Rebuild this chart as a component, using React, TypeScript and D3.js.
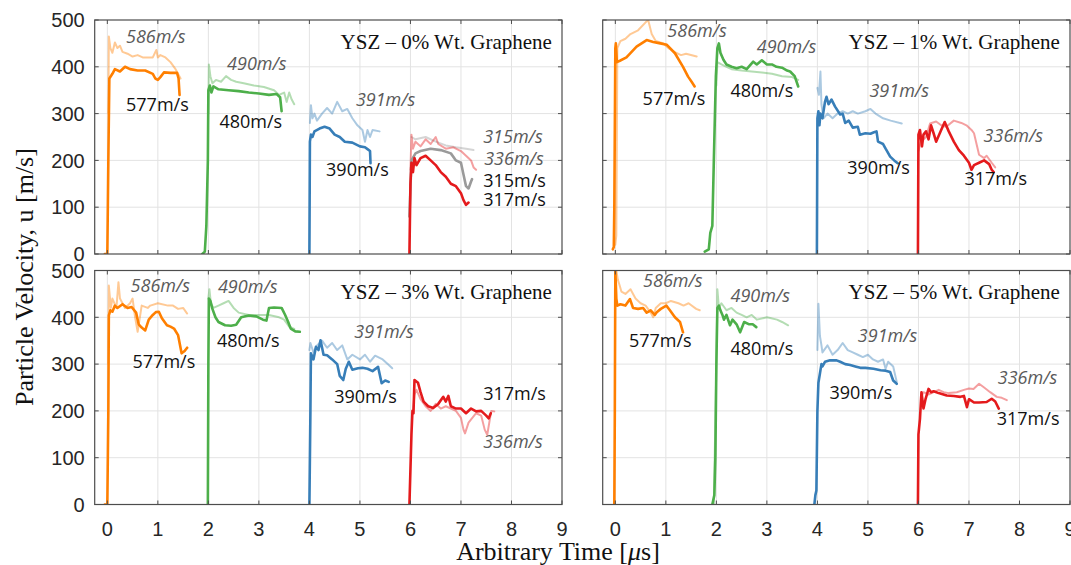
import React from "react";
import * as d3 from "d3";

type Pt = [number, number];

// ---------- axes ----------
const xTicks = [0, 1, 2, 3, 4, 5, 6, 7, 8, 9];
const yTicks = [0, 100, 200, 300, 400, 500];
const xDomain: [number, number] = [-0.25, 9];
const yDomain: [number, number] = [0, 500];
const xAxisLabel = "Arbitrary Time [";
const yAxisLabel = "Particle Velocity, u [m/s]";
const panelTitles = [
  "YSZ – 0% Wt. Graphene",
  "YSZ – 1% Wt. Graphene",
  "YSZ – 3% Wt. Graphene",
  "YSZ – 5% Wt. Graphene",
];

// ---------- colours ----------
const cOrange = "#FF7F00";
const cGreen = "#4DAF4A";
const cBlue = "#377EB8";
const cRed = "#E41A1C";
const cGray = "#9a9a9a";

// ---------- Panel 0% ----------
const p0OrangeA: Pt[] = [[0.02,300],[0.03,465],[0.06,440],[0.1,430],[0.15,452],[0.2,440],[0.25,445],[0.3,432],[0.4,428],[0.5,422],[0.6,425],[0.7,420],[0.8,420],[0.9,420],[0.97,436],[1.0,420],[1.05,425],[1.15,420],[1.25,410],[1.35,395],[1.45,375]];
const p0OrangeB: Pt[] = [[-0.05,0],[0.0,0],[0.02,200],[0.04,375],[0.1,385],[0.15,395],[0.25,390],[0.35,400],[0.45,395],[0.6,392],[0.75,392],[0.9,385],[0.95,375],[1.0,372],[1.05,378],[1.12,388],[1.25,387],[1.38,387],[1.41,375],[1.43,340]];
const p0GreenA: Pt[] = [[2.0,300],[2.01,405],[2.04,380],[2.08,365],[2.15,372],[2.25,368],[2.35,380],[2.45,372],[2.55,368],[2.7,365],[2.9,360],[3.1,357],[3.3,350],[3.4,340],[3.5,345],[3.55,325],[3.6,345],[3.65,330],[3.7,320]];
const p0GreenB: Pt[] = [[1.88,0],[1.93,5],[1.96,60],[1.99,200],[2.0,350],[2.03,360],[2.06,345],[2.1,358],[2.2,352],[2.4,350],[2.6,348],[2.8,345],[3.0,343],[3.2,340],[3.35,342],[3.42,335],[3.45,305]];
const p0BlueA: Pt[] = [[4.01,280],[4.03,318],[4.06,290],[4.1,300],[4.15,285],[4.25,300],[4.35,312],[4.45,300],[4.55,325],[4.65,305],[4.75,310],[4.85,290],[4.95,275],[5.05,265],[5.1,240],[5.15,265],[5.2,250],[5.25,265],[5.39,262]];
const p0BlueB: Pt[] = [[4.0,0],[4.01,240],[4.03,255],[4.06,250],[4.1,262],[4.2,268],[4.3,272],[4.4,268],[4.5,255],[4.6,250],[4.7,240],[4.85,238],[5.0,230],[5.1,228],[5.15,224],[5.2,220],[5.21,194]];
const p0RedA: Pt[] = [[6.0,180],[6.02,255],[6.05,225],[6.1,240],[6.2,230],[6.3,245],[6.4,235],[6.5,250],[6.55,235],[6.7,225],[6.85,228],[7.0,220],[7.1,210],[7.2,200],[7.25,185],[7.3,180]];
const p0RedB: Pt[] = [[5.98,0],[6.0,150],[6.02,195],[6.05,175],[6.08,205],[6.12,190],[6.2,205],[6.3,210],[6.4,200],[6.5,190],[6.6,175],[6.7,165],[6.8,150],[6.9,145],[7.0,130],[7.05,115],[7.1,105],[7.15,110]];
const p0GrayA: Pt[] = [[6.02,250],[6.1,245],[6.3,250],[6.5,240],[6.7,232],[6.9,228],[7.1,225],[7.25,222]];
const p0GrayB: Pt[] = [[5.98,80],[6.02,200],[6.1,215],[6.2,220],[6.4,225],[6.6,222],[6.8,215],[6.9,200],[7.0,195],[7.05,170],[7.1,145],[7.15,140],[7.2,155],[7.22,160]];

// ---------- Panel 1% ----------
const p1OrangeA: Pt[] = [[0.0,20],[0.02,40],[0.04,440],[0.1,455],[0.2,460],[0.3,470],[0.45,478],[0.6,495],[0.65,500],[0.72,470],[0.8,455],[0.95,450],[1.05,440],[1.2,430],[1.3,425],[1.4,428],[1.61,422]];
const p1OrangeB: Pt[] = [[-0.05,10],[-0.03,15],[-0.02,100],[0.0,440],[0.01,450],[0.03,410],[0.09,413],[0.22,420],[0.42,443],[0.62,457],[0.75,453],[0.89,450],[1.02,447],[1.18,429],[1.34,400],[1.44,379],[1.51,368],[1.57,358]];
const p1GreenA: Pt[] = [[2.0,360],[2.02,410],[2.1,405],[2.2,400],[2.3,395],[2.5,392],[2.7,390],[2.9,388],[3.1,385],[3.3,380],[3.5,378],[3.62,372]];
const p1GreenB: Pt[] = [[1.77,5],[1.85,10],[1.88,45],[1.92,60],[1.95,200],[1.99,380],[2.02,440],[2.05,450],[2.08,430],[2.14,415],[2.2,405],[2.3,400],[2.4,397],[2.5,400],[2.6,395],[2.73,411],[2.8,405],[2.9,414],[3.0,405],[3.1,405],[3.19,400],[3.3,398],[3.4,392],[3.46,390],[3.55,380],[3.62,358]];
const p1BlueA: Pt[] = [[4.0,355],[4.03,340],[4.06,390],[4.08,320],[4.12,290],[4.2,300],[4.3,290],[4.4,300],[4.5,305],[4.6,300],[4.7,305],[4.8,300],[4.95,305],[5.05,310],[5.15,300],[5.3,290],[5.45,285],[5.67,279]];
const p1BlueB: Pt[] = [[3.99,0],[4.0,290],[4.02,305],[4.04,275],[4.06,300],[4.1,290],[4.15,325],[4.18,336],[4.22,320],[4.28,330],[4.35,315],[4.45,298],[4.5,300],[4.55,280],[4.62,285],[4.7,270],[4.8,272],[4.84,255],[4.95,258],[5.05,257],[5.12,260],[5.17,262],[5.2,240],[5.3,235],[5.35,225],[5.44,208],[5.52,200],[5.59,194]];
const p1RedA: Pt[] = [[6.0,220],[6.05,240],[6.15,250],[6.23,279],[6.35,283],[6.45,275],[6.55,272],[6.7,285],[6.85,280],[6.95,275],[7.05,265],[7.1,258],[7.2,212],[7.3,205],[7.35,210],[7.45,195],[7.52,185]];
const p1RedB: Pt[] = [[5.99,0],[6.0,255],[6.03,265],[6.07,230],[6.1,255],[6.15,262],[6.2,245],[6.25,275],[6.3,258],[6.35,240],[6.45,265],[6.52,282],[6.6,262],[6.7,240],[6.8,222],[6.9,210],[7.0,195],[7.05,180],[7.1,190],[7.2,195],[7.3,200],[7.4,192],[7.45,180],[7.49,175]];

// ---------- Panel 3% ----------
const p3OrangeA: Pt[] = [[0.02,300],[0.03,468],[0.07,420],[0.1,440],[0.18,420],[0.22,475],[0.25,440],[0.35,420],[0.45,430],[0.5,440],[0.55,400],[0.6,369],[0.68,425],[0.8,420],[0.85,425],[1.0,430],[1.2,425],[1.3,425],[1.4,418],[1.5,420],[1.58,408]];
const p3OrangeB: Pt[] = [[-0.05,0],[0.0,0],[0.02,200],[0.03,404],[0.06,415],[0.1,412],[0.15,425],[0.2,420],[0.3,428],[0.4,420],[0.48,422],[0.57,410],[0.62,385],[0.68,378],[0.75,372],[0.82,395],[0.9,405],[0.96,411],[1.02,412],[1.08,398],[1.18,383],[1.25,380],[1.32,376],[1.4,362],[1.47,323],[1.53,328],[1.58,335]];
const p3GreenA: Pt[] = [[2.0,440],[2.02,460],[2.05,430],[2.1,420],[2.2,425],[2.3,430],[2.4,435],[2.5,420],[2.6,410],[2.8,405],[3.0,405],[3.2,405],[3.4,400],[3.5,395],[3.6,380],[3.7,375]];
const p3GreenB: Pt[] = [[1.99,0],[2.0,300],[2.01,440],[2.04,435],[2.08,418],[2.14,400],[2.2,390],[2.33,383],[2.45,382],[2.55,384],[2.65,400],[2.8,404],[2.95,402],[3.08,395],[3.15,393],[3.2,420],[3.3,421],[3.45,420],[3.52,405],[3.58,390],[3.63,376],[3.72,370],[3.81,369]];
const p3BlueA: Pt[] = [[4.0,330],[4.02,345],[4.08,325],[4.15,340],[4.25,350],[4.35,335],[4.45,345],[4.55,330],[4.65,340],[4.75,310],[4.85,320],[5.0,310],[5.1,320],[5.2,305],[5.3,318],[5.45,310],[5.55,300],[5.64,291]];
const p3BlueB: Pt[] = [[4.0,0],[4.02,200],[4.03,323],[4.08,310],[4.13,337],[4.18,330],[4.22,351],[4.28,320],[4.35,319],[4.45,310],[4.55,300],[4.6,275],[4.67,266],[4.72,290],[4.78,305],[4.85,288],[4.96,291],[5.05,292],[5.15,290],[5.25,285],[5.36,294],[5.43,259],[5.5,265],[5.57,262]];
const p3RedA: Pt[] = [[6.05,200],[6.08,235],[6.12,245],[6.2,225],[6.3,210],[6.4,200],[6.5,215],[6.6,205],[6.7,210],[6.8,205],[6.9,200],[7.0,185],[7.05,160],[7.08,152],[7.15,175],[7.3,195],[7.4,190],[7.47,160],[7.52,149],[7.6,200],[7.66,199]];
const p3RedB: Pt[] = [[5.98,0],[6.02,150],[6.04,200],[6.06,195],[6.08,266],[6.15,260],[6.2,240],[6.26,220],[6.35,210],[6.45,206],[6.55,215],[6.65,230],[6.7,220],[6.75,232],[6.8,210],[6.9,205],[7.0,205],[7.1,195],[7.2,205],[7.3,199],[7.4,200],[7.5,190],[7.55,184],[7.59,195]];

// ---------- Panel 5% ----------
const p5OrangeA: Pt[] = [[0.02,500],[0.05,480],[0.08,470],[0.12,455],[0.2,450],[0.3,460],[0.4,440],[0.5,430],[0.6,425],[0.7,410],[0.75,400],[0.8,420],[0.9,430],[1.0,430],[1.1,435],[1.25,430],[1.35,425],[1.45,430],[1.6,418],[1.67,415]];
const p5OrangeB: Pt[] = [[-0.02,0],[-0.01,200],[0.0,500],[0.02,440],[0.04,425],[0.1,428],[0.2,425],[0.29,439],[0.35,420],[0.45,418],[0.55,420],[0.62,410],[0.7,415],[0.78,405],[0.82,411],[0.9,418],[1.01,425],[1.08,415],[1.18,400],[1.28,390],[1.34,368]];
const p5GreenA: Pt[] = [[1.95,0],[2.0,300],[2.02,460],[2.05,420],[2.1,430],[2.2,415],[2.3,420],[2.4,410],[2.5,405],[2.6,400],[2.7,405],[2.8,395],[3.0,400],[3.2,395],[3.3,390],[3.42,383]];
const p5GreenB: Pt[] = [[1.92,0],[1.96,20],[1.98,100],[2.0,300],[2.02,420],[2.05,425],[2.08,415],[2.12,405],[2.15,395],[2.2,405],[2.27,383],[2.32,395],[2.4,385],[2.47,368],[2.55,390],[2.65,385],[2.72,385],[2.79,379]];
const p5BlueA: Pt[] = [[4.0,330],[4.02,429],[4.05,360],[4.08,340],[4.1,325],[4.2,340],[4.3,320],[4.4,330],[4.5,345],[4.6,330],[4.7,325],[4.8,320],[4.9,315],[5.0,320],[5.1,310],[5.2,305],[5.3,310],[5.35,290],[5.4,305],[5.5,295],[5.57,262]];
const p5BlueB: Pt[] = [[3.94,0],[3.96,20],[3.98,30],[4.0,200],[4.02,260],[4.05,280],[4.08,300],[4.1,295],[4.15,305],[4.25,308],[4.38,308],[4.45,305],[4.55,300],[4.65,298],[4.75,295],[4.85,292],[4.95,292],[5.11,290],[5.25,287],[5.35,286],[5.44,283],[5.5,265],[5.57,258]];
const p5RedA: Pt[] = [[6.05,230],[6.1,240],[6.2,235],[6.3,240],[6.4,245],[6.5,240],[6.6,238],[6.76,240],[6.9,245],[7.0,248],[7.09,247],[7.2,258],[7.3,250],[7.42,240],[7.55,230],[7.65,228],[7.75,223]];
const p5RedB: Pt[] = [[5.99,0],[6.0,150],[6.03,183],[6.06,240],[6.1,205],[6.14,225],[6.2,247],[6.25,240],[6.3,242],[6.4,238],[6.56,233],[6.7,232],[6.83,230],[6.9,232],[6.96,208],[7.0,225],[7.1,218],[7.2,218],[7.35,219],[7.45,226],[7.52,220],[7.59,205]];

// ---------- text annotations (x, value-baseline) ----------
type Lbl = { t: string; x: number; y: number; it: boolean };
const p0Labels: Lbl[] = [
  { t: "586m/s", x: 0.37, y: 451, it: true },
  { t: "577m/s", x: 0.37, y: 305, it: false },
  { t: "490m/s", x: 2.37, y: 393, it: true },
  { t: "480m/s", x: 2.22, y: 269, it: false },
  { t: "391m/s", x: 4.92, y: 316, it: true },
  { t: "390m/s", x: 4.33, y: 166, it: false },
  { t: "315m/s", x: 7.44, y: 237, it: true },
  { t: "336m/s", x: 7.46, y: 191, it: true },
  { t: "315m/s", x: 7.44, y: 144, it: false },
  { t: "317m/s", x: 7.44, y: 103, it: false },
];
const p1Labels: Lbl[] = [
  { t: "586m/s", x: 1.03, y: 463, it: true },
  { t: "577m/s", x: 0.54, y: 318, it: false },
  { t: "490m/s", x: 2.8, y: 429, it: true },
  { t: "480m/s", x: 2.28, y: 336, it: false },
  { t: "391m/s", x: 5.03, y: 336, it: true },
  { t: "390m/s", x: 4.59, y: 171, it: false },
  { t: "336m/s", x: 7.29, y: 240, it: true },
  { t: "317m/s", x: 6.91, y: 147, it: false },
];
const p3Labels: Lbl[] = [
  { t: "586m/s", x: 0.46, y: 454, it: true },
  { t: "577m/s", x: 0.5, y: 291, it: false },
  { t: "490m/s", x: 2.19, y: 452, it: true },
  { t: "480m/s", x: 2.17, y: 337, it: false },
  { t: "391m/s", x: 4.89, y: 355, it: true },
  { t: "390m/s", x: 4.49, y: 216, it: false },
  { t: "317m/s", x: 7.44, y: 223, it: false },
  { t: "336m/s", x: 7.44, y: 121, it: true },
];
const p5Labels: Lbl[] = [
  { t: "586m/s", x: 0.55, y: 464, it: true },
  { t: "577m/s", x: 0.27, y: 336, it: false },
  { t: "490m/s", x: 2.28, y: 432, it: true },
  { t: "480m/s", x: 2.28, y: 319, it: false },
  { t: "391m/s", x: 4.8, y: 347, it: true },
  { t: "390m/s", x: 4.24, y: 226, it: false },
  { t: "336m/s", x: 7.57, y: 258, it: true },
  { t: "317m/s", x: 7.55, y: 169, it: false },
];

type Series = { d: Pt[]; c: string; light: boolean };
type Panel = {
  x0: number; x1: number; y0: number; y1: number;
  title: string; series: Series[]; labels: Lbl[];
  yLabels: boolean; xLabels: boolean;
};

const panels: Panel[] = [
  {
    x0: 94.7, x1: 562, y0: 20, y1: 254, title: panelTitles[0], labels: p0Labels, yLabels: true, xLabels: false,
    series: [
      { d: p0OrangeA, c: cOrange, light: true }, { d: p0GreenA, c: cGreen, light: true },
      { d: p0BlueA, c: cBlue, light: true }, { d: p0GrayA, c: cGray, light: true }, { d: p0RedA, c: cRed, light: true },
      { d: p0OrangeB, c: cOrange, light: false }, { d: p0GreenB, c: cGreen, light: false },
      { d: p0BlueB, c: cBlue, light: false }, { d: p0GrayB, c: cGray, light: false }, { d: p0RedB, c: cRed, light: false },
    ],
  },
  {
    x0: 602.7, x1: 1070, y0: 20, y1: 254, title: panelTitles[1], labels: p1Labels, yLabels: false, xLabels: false,
    series: [
      { d: p1OrangeA, c: cOrange, light: true }, { d: p1GreenA, c: cGreen, light: true },
      { d: p1BlueA, c: cBlue, light: true }, { d: p1RedA, c: cRed, light: true },
      { d: p1OrangeB, c: cOrange, light: false }, { d: p1GreenB, c: cGreen, light: false },
      { d: p1BlueB, c: cBlue, light: false }, { d: p1RedB, c: cRed, light: false },
    ],
  },
  {
    x0: 94.7, x1: 562, y0: 270.5, y1: 504.5, title: panelTitles[2], labels: p3Labels, yLabels: true, xLabels: true,
    series: [
      { d: p3OrangeA, c: cOrange, light: true }, { d: p3GreenA, c: cGreen, light: true },
      { d: p3BlueA, c: cBlue, light: true }, { d: p3RedA, c: cRed, light: true },
      { d: p3OrangeB, c: cOrange, light: false }, { d: p3GreenB, c: cGreen, light: false },
      { d: p3BlueB, c: cBlue, light: false }, { d: p3RedB, c: cRed, light: false },
    ],
  },
  {
    x0: 602.7, x1: 1070, y0: 270.5, y1: 504.5, title: panelTitles[3], labels: p5Labels, yLabels: false, xLabels: true,
    series: [
      { d: p5OrangeA, c: cOrange, light: true }, { d: p5GreenA, c: cGreen, light: true },
      { d: p5BlueA, c: cBlue, light: true }, { d: p5RedA, c: cRed, light: true },
      { d: p5OrangeB, c: cOrange, light: false }, { d: p5GreenB, c: cGreen, light: false },
      { d: p5BlueB, c: cBlue, light: false }, { d: p5RedB, c: cRed, light: false },
    ],
  },
];

const tickFont = "'Liberation Sans', Arial, Helvetica, sans-serif";
const serif = "'Liberation Serif', 'Times New Roman', serif";
const annFont = "'Open Sans', 'Noto Sans', sans-serif";

function PanelView({ p, i }: { p: Panel; i: number }) {
  const x = d3.scaleLinear().domain(xDomain).range([p.x0, p.x1]);
  const y = d3.scaleLinear().domain(yDomain).range([p.y1, p.y0]);
  const line = d3.line<Pt>().x((d) => x(d[0])).y((d) => y(d[1]));
  const clipId = `clip${i}`;
  const frame = "#4d4d4d";
  return (
    <g>
      <defs>
        <clipPath id={clipId}>
          <rect x={p.x0} y={p.y0} width={p.x1 - p.x0} height={p.y1 - p.y0} />
        </clipPath>
      </defs>
      <rect x={p.x0} y={p.y0} width={p.x1 - p.x0} height={p.y1 - p.y0} fill="#fff" />
      {xTicks.filter((t) => t > xDomain[0] && t < xDomain[1]).map((t) => (
        <line key={"gx" + t} x1={x(t)} x2={x(t)} y1={p.y0} y2={p.y1} stroke="#e3e3e3" strokeWidth={1} />
      ))}
      {yTicks.filter((t) => t > yDomain[0] && t < yDomain[1]).map((t) => (
        <line key={"gy" + t} x1={p.x0} x2={p.x1} y1={y(t)} y2={y(t)} stroke="#e3e3e3" strokeWidth={1} />
      ))}
      <g clipPath={`url(#${clipId})`}>
        {p.series.map((s, k) => (
          <path key={k} d={line(s.d) || ""} fill="none" stroke={s.c}
            strokeOpacity={s.light ? 0.42 : 1} strokeWidth={s.light ? 2 : 2.6}
            strokeLinejoin="round" strokeLinecap="round" />
        ))}
      </g>
      {/* ticks inward */}
      {xTicks.map((t) => (
        <g key={"tx" + t}>
          <line x1={x(t)} x2={x(t)} y1={p.y1} y2={p.y1 - 4} stroke={frame} />
          <line x1={x(t)} x2={x(t)} y1={p.y0} y2={p.y0 + 4} stroke={frame} />
        </g>
      ))}
      {yTicks.map((t) => (
        <g key={"ty" + t}>
          <line x1={p.x0} x2={p.x0 + 4} y1={y(t)} y2={y(t)} stroke={frame} />
          <line x1={p.x1} x2={p.x1 - 4} y1={y(t)} y2={y(t)} stroke={frame} />
        </g>
      ))}
      <rect x={p.x0} y={p.y0} width={p.x1 - p.x0} height={p.y1 - p.y0} fill="none" stroke={frame} strokeWidth={1.2} />
      {p.yLabels && yTicks.map((t) => (
        <text key={"yl" + t} x={p.x0 - 10} y={y(t)} dy="0.36em" textAnchor="end"
          fontFamily={tickFont} fontSize={20} fill="#262626">{t}</text>
      ))}
      {p.xLabels && xTicks.map((t) => (
        <text key={"xl" + t} x={x(t)} y={p.y1 + 31} textAnchor="middle"
          fontFamily={tickFont} fontSize={20} fill="#262626">{t}</text>
      ))}
      <text x={x(8.8)} y={y(439)} textAnchor="end" fontFamily={serif} fontSize={21} fill="#111">{p.title}</text>
      {p.labels.map((l, k) => (
        <text key={"lb" + k} x={x(l.x)} y={y(l.y)} fontFamily={annFont} fontSize={18}
          fontStyle={l.it ? "italic" : "normal"} fill={l.it ? "#5a5a5a" : "#111"}>{l.t}</text>
      ))}
    </g>
  );
}

export default function App() {
  return (
    <div style={{ position: "absolute", left: 0, top: 0 }}>
      <svg width={1071} height={565} style={{ display: "block", background: "#fff" }}>
        {panels.map((p, i) => <PanelView key={i} p={p} i={i} />)}
        <text transform="translate(33,277) rotate(-90)" textAnchor="middle" fontFamily={serif} fontSize={26} fill="#111">
          {yAxisLabel}
        </text>
        <text x={558} y={560} textAnchor="middle" fontFamily={serif} fontSize={26} fill="#111">
          {xAxisLabel}<tspan fontStyle="italic">μ</tspan>s]
        </text>
      </svg>
    </div>
  );
}
